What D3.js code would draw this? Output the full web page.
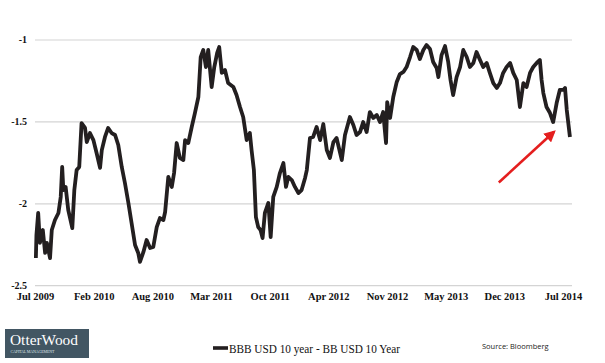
<!DOCTYPE html>
<html>
<head>
<meta charset="utf-8">
<script src="https://cdn.jsdelivr.net/npm/d3@7"></script>
<style>
  html, body { margin: 0; padding: 0; background: #fff; }
  svg { display: block; }
</style>
</head>
<body>
<div id="viz"></div>
<script>
/*global d3 */
// days since 1 Jul 2009, and the BBB - BB spread
var startDate = new Date(2009, 6, 1);
var dayOffsets = [
    3, 5, 11, 17, 27, 35, 41, 52, 58, 69, 81, 89, 94, 98, 106, 115, 129, 136, 144, 153,
    161, 173, 179, 190, 202, 213, 225, 231, 242, 253, 265, 277, 288, 300, 311, 323, 334, 346, 357, 363,
    375, 386, 398, 409, 421, 432, 444, 450, 461, 473, 481, 490, 501, 513, 519, 530, 542, 553, 565, 573,
    582, 591, 599, 611, 620, 630, 637, 646, 657, 668, 686, 697, 709, 720, 732, 743, 749, 757, 764, 772,
    780, 787, 795, 807, 815, 824, 836, 847, 859, 868, 876, 888, 899, 911, 922, 934, 940, 951, 962, 974,
    986, 997, 1009, 1020, 1032, 1043, 1061, 1072, 1089, 1101, 1112, 1124, 1135, 1147, 1158, 1170, 1182, 1193, 1204, 1214,
    1218, 1228, 1239, 1251, 1262, 1274, 1285, 1297, 1308, 1320, 1331, 1343, 1354, 1366, 1377, 1389, 1395, 1406, 1418, 1429,
    1437, 1446, 1458, 1470, 1481, 1493, 1504, 1516, 1527, 1539, 1550, 1562, 1573, 1585, 1597, 1608, 1619, 1631, 1643, 1654,
    1666, 1677, 1689, 1700, 1712, 1723, 1735, 1746, 1752, 1758, 1769, 1781, 1792, 1804, 1815, 1827, 1833, 1839, 1850
];
var spread = [
    -2.331, -2.190, -2.056, -2.239, -2.160, -2.300, -2.239, -2.331, -2.160, -2.099, -2.056, -1.958, -1.775, -1.916, -1.897, -2.038, -2.148, -1.916, -1.794, -1.775,
    -1.507, -1.537, -1.623, -1.568, -1.611, -1.690, -1.781, -1.672, -1.592, -1.537, -1.568, -1.580, -1.641, -1.775, -1.873, -1.995, -2.117, -2.252, -2.300, -2.355,
    -2.294, -2.221, -2.270, -2.264, -2.142, -2.087, -2.099, -2.050, -1.836, -1.897, -1.812, -1.629, -1.720, -1.733, -1.611, -1.629, -1.531, -1.446, -1.348, -1.104,
    -1.061, -1.165, -1.061, -1.287, -1.165, -1.079, -1.043, -1.201, -1.183, -1.263, -1.287, -1.336, -1.409, -1.470, -1.611, -1.568, -1.672, -1.794, -2.081, -2.142,
    -2.160, -2.209, -2.056, -1.995, -2.203, -1.958, -1.897, -1.812, -1.751, -1.897, -1.836, -1.855, -1.897, -1.934, -1.916, -1.842, -1.794, -1.598, -1.592, -1.531,
    -1.611, -1.513, -1.672, -1.720, -1.623, -1.598, -1.733, -1.580, -1.470, -1.519, -1.580, -1.562, -1.501, -1.562, -1.440, -1.476, -1.458, -1.501, -1.440, -1.629,
    -1.379, -1.476, -1.348, -1.256, -1.208, -1.195, -1.165, -1.104, -1.043, -1.061, -1.116, -1.061, -1.031, -1.055, -1.134, -1.171, -1.226, -1.092, -1.037, -1.134,
    -1.244, -1.336, -1.226, -1.165, -1.061, -1.104, -1.165, -1.140, -1.073, -1.122, -1.165, -1.140, -1.201, -1.263, -1.293, -1.263, -1.201, -1.165, -1.140, -1.201,
    -1.244, -1.409, -1.263, -1.287, -1.201, -1.165, -1.140, -1.122, -1.244, -1.324, -1.409, -1.446, -1.501, -1.385, -1.305, -1.305, -1.293, -1.427, -1.592
];
var xLabels = ['Jul 2009', 'Feb 2010', 'Aug 2010', 'Mar 2011', 'Oct 2011',
    'Apr 2012', 'Nov 2012', 'May 2013', 'Dec 2013', 'Jul 2014'];
var yTicks = [-1, -1.5, -2, -2.5];
var seriesName = 'BBB USD 10 year - BB USD 10 Year';

(function () {
    'use strict';

    var width = 605, height = 363,
        left = 35, right = 563, gridRight = 572,
        top = 40, bottom = 285.7;

    var endDate = d3.timeDay.offset(startDate, 1826);
    var data = dayOffsets.map(function (d, i) {
        return { date: d3.timeDay.offset(startDate, d), value: spread[i] };
    });

    var x = d3.scaleTime().domain([startDate, endDate]).range([left, right]);
    var y = d3.scaleLinear().domain([-2.5, -1]).range([bottom, top]);

    var svg = d3.select('#viz').append('svg')
        .attr('width', width)
        .attr('height', height);

    svg.append('rect').attr('width', width).attr('height', height).attr('fill', '#fff');

    // gridlines + y labels
    var yAxis = svg.append('g').attr('class', 'y-axis');
    yAxis.selectAll('line')
        .data(yTicks)
        .enter().append('line')
        .attr('x1', left)
        .attr('x2', gridRight)
        .attr('y1', function (d) { return y(d); })
        .attr('y2', function (d) { return y(d); })
        .attr('stroke', '#d4d4d4')
        .attr('stroke-width', 1.2);
    yAxis.selectAll('text')
        .data(yTicks)
        .enter().append('text')
        .attr('x', 27)
        .attr('y', function (d) { return y(d); })
        .attr('dy', '0.32em')
        .attr('text-anchor', 'end')
        .attr('font-family', '"Liberation Serif", "Times New Roman", serif')
        .attr('font-weight', 'bold')
        .attr('font-size', '10px')
        .attr('fill', '#111')
        .text(function (d) { return d; });

    // x labels: evenly spaced across the date range
    var tickDates = xLabels.map(function (l, i) {
        return new Date(+startDate + i * (endDate - startDate) / (xLabels.length - 1));
    });
    var xAxis = d3.axisBottom(x)
        .tickValues(tickDates)
        .tickSize(0)
        .tickPadding(0)
        .tickFormat(function (d, i) { return xLabels[i]; });
    var xg = svg.append('g')
        .attr('transform', 'translate(0,' + 293 + ')')
        .call(xAxis);
    xg.select('.domain').remove();
    xg.selectAll('text')
        .attr('font-family', '"Liberation Serif", "Times New Roman", serif')
        .attr('font-weight', 'bold')
        .attr('font-size', '10.5px')
        .attr('fill', '#111')
        .attr('dy', '0.71em');

    // series line
    var line = d3.line()
        .x(function (d) { return x(d.date); })
        .y(function (d) { return y(d.value); });
    svg.append('path')
        .datum(data)
        .attr('d', line)
        .attr('fill', 'none')
        .attr('stroke', '#231f20')
        .attr('stroke-width', 3.8)
        .attr('stroke-linejoin', 'round');

    // red arrow pointing at the recent dip
    svg.append('defs').append('marker')
        .attr('id', 'arrowHead')
        .attr('viewBox', '0 0 10 10')
        .attr('refX', 8)
        .attr('refY', 5)
        .attr('markerWidth', 4.5)
        .attr('markerHeight', 4.5)
        .attr('orient', 'auto')
        .append('path')
        .attr('d', 'M0,0 L10,5 L0,10 Z')
        .attr('fill', '#e41e1e');
    var tip = { date: d3.timeDay.offset(startDate, 1795), value: -1.56 };
    var tail = { date: d3.timeDay.offset(startDate, 1604), value: -1.87 };
    svg.append('line')
        .attr('x1', x(tail.date))
        .attr('y1', y(tail.value))
        .attr('x2', x(tip.date))
        .attr('y2', y(tip.value))
        .attr('stroke', '#e41e1e')
        .attr('stroke-width', 2.6)
        .attr('marker-end', 'url(#arrowHead)');

    // legend
    var legend = svg.append('g').attr('transform', 'translate(213,348)');
    legend.append('line')
        .attr('x1', 0).attr('x2', 15)
        .attr('stroke', '#231f20')
        .attr('stroke-width', 3.6);
    legend.append('text')
        .attr('x', 16)
        .attr('y', 4.5)
        .attr('font-family', '"Liberation Serif", "Times New Roman", serif')
        .attr('font-size', '12px')
        .attr('textLength', 171)
        .attr('lengthAdjust', 'spacingAndGlyphs')
        .attr('fill', '#111')
        .text(seriesName);

    svg.append('text')
        .attr('x', 482)
        .attr('y', 349)
        .attr('font-family', '"Open Sans", "Liberation Sans", sans-serif')
        .attr('font-size', '7.5px')
        .attr('fill', '#222')
        .text('Source: Bloomberg');

    // logo
    var logo = svg.append('g').attr('transform', 'translate(5,329)');
    logo.append('rect')
        .attr('width', 84)
        .attr('height', 29)
        .attr('fill', '#425663');
    logo.append('text')
        .attr('x', 5)
        .attr('y', 16)
        .attr('font-family', '"Liberation Serif", "Times New Roman", serif')
        .attr('font-size', '15px')
        .attr('textLength', 68)
        .attr('lengthAdjust', 'spacingAndGlyphs')
        .attr('fill', '#fff')
        .text('OtterWood');
    logo.append('text')
        .attr('x', 5.5)
        .attr('y', 23.5)
        .attr('font-family', '"Liberation Serif", "Times New Roman", serif')
        .attr('font-size', '4px')
        .attr('textLength', 44)
        .attr('fill', '#dde3e7')
        .text('CAPITAL MANAGEMENT');
})();
</script>
</body>
</html>
